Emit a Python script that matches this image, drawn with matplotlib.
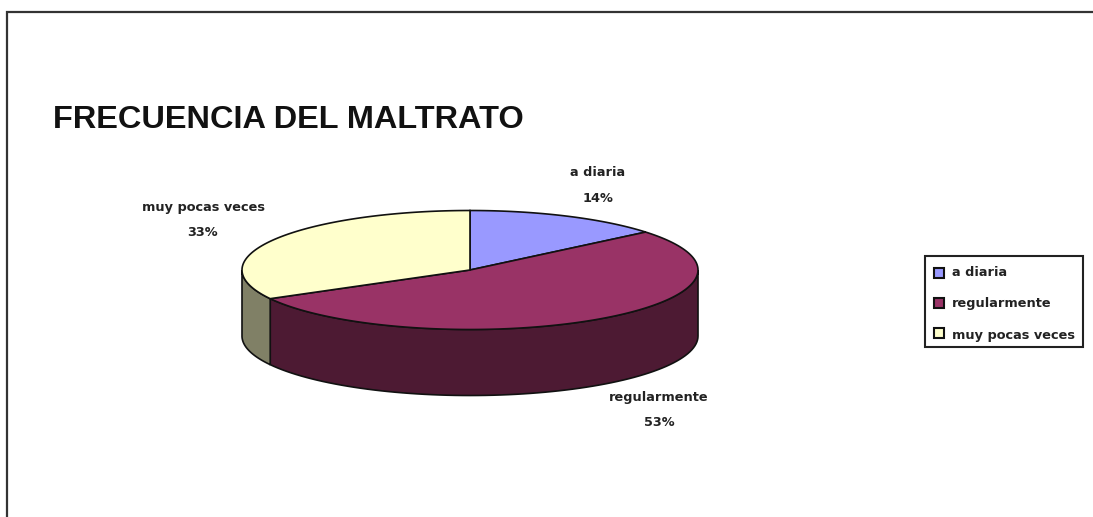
import numpy as np
import matplotlib
matplotlib.use("Agg")
import matplotlib.pyplot as plt
from matplotlib.patches import Rectangle, Polygon

title = "FRECUENCIA DEL MALTRATO"
categories = ["a diaria", "regularmente", "muy pocas veces"]
values = [14, 53, 33]
pct_labels = ["14%", "53%", "33%"]
top_colors = ["#9999FF", "#993366", "#FFFFCC"]
side_colors = ["#4D4D80", "#4D1A33", "#808066"]

W, H = 1093, 517
cx, cy, rx, ry, depth = 470, 270, 228, 59.5, 66
EDGE = "#111111"
FONT = ["DejaVu Sans"]

fig = plt.figure(figsize=(W / 100, H / 100), dpi=100, facecolor="white")
ax = fig.add_axes([0, 0, 1, 1])
ax.set_xlim(0, W)
ax.set_ylim(H, 0)
ax.axis("off")

# chart border: the crop cuts it off at the right and bottom edges
ax.plot([7, 7, W + 2], [H + 2, 11.5, 11.5], color="#333333", lw=1.6, solid_joinstyle="miter", zorder=1)

ax.text(53, 120, title, family="Liberation Sans", fontweight="bold", fontsize=23.4,
        color="#111111", ha="left", va="center", zorder=6)

# angles measured clockwise from 12 o'clock
edges = np.concatenate([[0], np.cumsum(values)]) / np.sum(values) * 2 * np.pi

def pt(a):
    return cx + rx * np.sin(a), cy - ry * np.cos(a)

# side wall (only the front half, pi/2 .. 3pi/2, is visible)
for i in range(len(values)):
    a0, a1 = max(edges[i], np.pi / 2), min(edges[i + 1], 3 * np.pi / 2)
    if a1 <= a0:
        continue
    t = np.linspace(a0, a1, 80)
    xs, ys = pt(t)
    poly = np.column_stack([np.r_[xs, xs[::-1]], np.r_[ys, (ys + depth)[::-1]]])
    ax.add_patch(Polygon(poly, closed=True, fc=side_colors[i], ec=EDGE, lw=1.2, zorder=2))

# top face
for i in range(len(values)):
    t = np.linspace(edges[i], edges[i + 1], 160)
    xs, ys = pt(t)
    poly = np.column_stack([np.r_[cx, xs], np.r_[cy, ys]])
    ax.add_patch(Polygon(poly, closed=True, fc=top_colors[i], ec=EDGE, lw=1.2, zorder=3))

# data labels
label_pos = [(598, 173, 198), (659, 398, 423), (203, 208, 233)]
lab_style = dict(family=FONT, fontweight="bold", fontsize=9.3, color="#222222", ha="center", va="center", zorder=6)
for name, pct, (x, y0, y1) in zip(categories, pct_labels, label_pos):
    ax.text(x, y0, name, **lab_style)
    ax.text(x, y1, pct, **lab_style)

# legend
ax.add_patch(Rectangle((924.5, 255.5), 158.5, 91.5, fc="white", ec="#222222", lw=1.5, zorder=4))
for name, col, y, ty in zip(categories, top_colors, [273, 303, 333], [273, 304, 335]):
    ax.add_patch(Rectangle((933.5, y - 5), 10, 10, fc=col, ec="#111111", lw=1.5, zorder=5))
    ax.text(951.5, ty, name, family=FONT, fontweight="bold", fontsize=9.3, color="#222222",
            ha="left", va="center", zorder=6)

fig.savefig("out.png", dpi=100, facecolor="white")
